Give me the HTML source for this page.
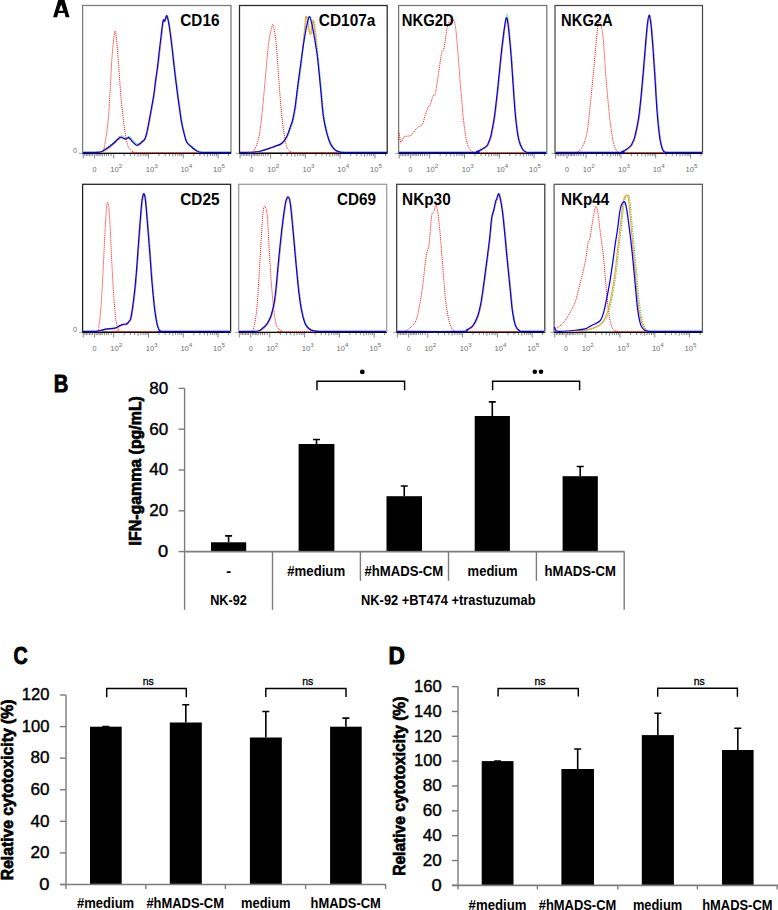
<!DOCTYPE html>
<html><head><meta charset="utf-8"><title>Figure</title>
<style>
html,body{margin:0;padding:0;background:#fff;}
body{width:778px;height:910px;overflow:hidden;font-family:"Liberation Sans", sans-serif;}
svg{display:block;}
</style></head><body>
<svg width="778" height="910" viewBox="0 0 778 910" font-family='"Liberation Sans", sans-serif'>
<rect width="778" height="910" fill="#fff"/>
<path d="M53.1,17.2 L58.4,-0.5 L64.4,-0.5 L69.5,17.2 L65.6,17.2 L64.6,13.1 L58.2,13.1 L57.1,17.2 Z M61.2,4.6 L58.9,10.7 L63.4,10.7 Z" fill="#000" fill-rule="evenodd"/>
<text x="53.8" y="391.5" font-size="24.5" font-weight="bold" textLength="14.6" lengthAdjust="spacingAndGlyphs" stroke="#000" stroke-width="0.9">B</text>
<text x="13.6" y="664.2" font-size="24.5" font-weight="bold" textLength="14.2" lengthAdjust="spacingAndGlyphs" stroke="#000" stroke-width="0.9">C</text>
<text x="388.4" y="664.1" font-size="23.5" font-weight="bold" textLength="16.4" lengthAdjust="spacingAndGlyphs" stroke="#000" stroke-width="0.9">D</text>
<path d="M83.2,153.5 v5 M94.6,153.5 v5 M113.7,153.5 v5 M148.5,153.5 v5 M183.3,153.5 v5 M218.1,153.5 v5 M84.8,153.5 v2.6 M86.35,153.5 v2.6 M87.9,153.5 v2.6 M89.45,153.5 v2.6 M91,153.5 v2.6 M92.55,153.5 v2.6 M96.2,153.5 v2.6 M97.8,153.5 v2.6 M99.2,153.5 v2.6 M100.8,153.5 v2.6 M102.3,153.5 v2.6 M104.4,153.5 v2.6 M106.4,153.5 v2.6 M108.5,153.5 v2.6 M111.1,153.5 v2.6 M124.18,153.5 v2.6 M130.3,153.5 v2.6 M134.65,153.5 v2.6 M138.02,153.5 v3.2 M140.78,153.5 v2.6 M143.11,153.5 v2.6 M145.13,153.5 v2.6 M146.91,153.5 v2.6 M158.98,153.5 v2.6 M165.1,153.5 v2.6 M169.45,153.5 v2.6 M172.82,153.5 v3.2 M175.58,153.5 v2.6 M177.91,153.5 v2.6 M179.93,153.5 v2.6 M181.71,153.5 v2.6 M193.78,153.5 v2.6 M199.9,153.5 v2.6 M204.25,153.5 v2.6 M207.62,153.5 v3.2 M210.38,153.5 v2.6 M212.71,153.5 v2.6 M214.73,153.5 v2.6 M216.51,153.5 v2.6 M228.58,153.5 v2.6" stroke="#7a7a7a" stroke-width="0.9" fill="none"/>
<text x="94.6" y="172" font-size="7.2" text-anchor="middle" fill="#6e6e6e">0</text>
<text x="110.3" y="172" font-size="7.6" fill="#6e6e6e">10<tspan dy="-4.4" font-size="6.2">2</tspan></text>
<text x="145.7" y="172" font-size="7.6" fill="#6e6e6e">10<tspan dy="-4.4" font-size="6.2">3</tspan></text>
<text x="180.4" y="172" font-size="7.6" fill="#6e6e6e">10<tspan dy="-4.4" font-size="6.2">4</tspan></text>
<text x="213.1" y="172" font-size="7.6" fill="#6e6e6e">10<tspan dy="-4.4" font-size="6.2">5</tspan></text>
<path d="M82.6,153.4 h-3.6" stroke="#8c8c8c" stroke-width="0.8"/>
<text x="75" y="152.8" font-size="7.2" text-anchor="middle" fill="#6e6e6e">0</text>
<rect x="82.6" y="5.5" width="148.4" height="147.5" fill="none" stroke="#7a7a7a" stroke-width="1.25"/>
<path d="M82.6,153.45 H231" stroke="#000" stroke-width="1.0"/>
<path d="M83,152.45 C85.82,152.45 96.42,153.05 99.9,152.45 C103.38,151.85 102.57,153.77 103.9,148.85 C105.23,143.93 106.9,131.92 107.9,122.95 C108.9,113.98 109.23,105.67 109.9,95.05 C110.57,84.43 111.23,68.87 111.9,59.25 C112.57,49.63 113.33,42 113.9,37.35 C114.47,32.7 114.8,30.37 115.3,31.35 C115.8,32.33 116.3,36.95 116.9,43.25 C117.5,49.55 118.25,60.52 118.9,69.15 C119.55,77.78 120.15,87.4 120.8,95.05 C121.45,102.7 121.97,108.07 122.8,115.05 C123.63,122.03 124.8,131.48 125.8,136.95 C126.8,142.42 127.47,145.33 128.8,147.85 C130.13,150.37 131.93,151.28 133.8,152.05 C135.67,152.82 123.8,152.38 140,152.45 C156.2,152.52 215.83,152.45 231,152.45" fill="none" stroke="#ff1a1a" stroke-width="1.0" stroke-dasharray="1.1 0.9"/>
<path d="M83.7,152.45 C86.52,152.33 97.12,152.35 100.6,151.75 C104.08,151.15 103.27,149.73 104.6,148.85 C105.93,147.97 106.93,147.67 108.6,146.45 C110.27,145.23 113,142.95 114.6,141.55 C116.2,140.15 117.05,139.02 118.2,138.05 C119.35,137.08 120.5,135.93 121.5,135.75 C122.5,135.57 123.37,136.63 124.2,136.95 C125.03,137.27 125.62,137.78 126.5,137.65 C127.38,137.52 128.5,135.83 129.5,136.15 C130.5,136.47 131.17,138.27 132.5,139.55 C133.83,140.83 135.83,143.67 137.5,143.85 C139.17,144.03 141.17,141.7 142.5,140.65 C143.83,139.6 144.67,138.97 145.5,137.55 C146.33,136.13 146.85,134.63 147.5,132.15 C148.15,129.67 148.67,126.48 149.4,122.65 C150.13,118.82 151.07,113.8 151.9,109.15 C152.73,104.5 153.65,99.75 154.4,94.75 C155.15,89.75 155.73,84.13 156.4,79.15 C157.07,74.17 157.82,69.52 158.4,64.85 C158.98,60.18 159.4,55.47 159.9,51.15 C160.4,46.83 160.9,43.12 161.4,38.95 C161.9,34.78 162.47,29.37 162.9,26.15 C163.33,22.93 163.58,20.57 164,19.65 C164.42,18.73 164.83,21.37 165.4,20.65 C165.97,19.93 166.73,14.95 167.4,15.35 C168.07,15.75 168.82,20.08 169.4,23.05 C169.98,26.02 170.4,29.5 170.9,33.15 C171.4,36.8 171.67,38.67 172.4,44.95 C173.13,51.23 174.32,62.55 175.3,70.85 C176.28,79.15 177.47,88.37 178.3,94.75 C179.13,101.13 179.63,104.5 180.3,109.15 C180.97,113.8 181.57,118.65 182.3,122.65 C183.03,126.65 183.87,129.98 184.7,133.15 C185.53,136.32 186.03,139.38 187.3,141.65 C188.57,143.92 190.73,145.33 192.3,146.75 C193.87,148.17 195.38,149.32 196.7,150.15 C198.02,150.98 198.87,151.37 200.2,151.75 C201.53,152.13 199.45,152.33 204.7,152.45 C209.95,152.57 227.2,152.45 231.7,152.45" fill="none" stroke="#33cc33" stroke-width="1.1" stroke-dasharray="1.2 1.2"/>
<path d="M83.5,152.45 C86.32,152.45 96.92,152.72 100.4,152.45 C103.88,152.18 103.07,151.52 104.4,150.85 C105.73,150.18 106.73,149.67 108.4,148.45 C110.07,147.23 112.8,144.95 114.4,143.55 C116,142.15 116.85,141.02 118,140.05 C119.15,139.08 120.3,137.93 121.3,137.75 C122.3,137.57 123.17,138.63 124,138.95 C124.83,139.27 125.42,139.78 126.3,139.65 C127.18,139.52 128.3,137.83 129.3,138.15 C130.3,138.47 130.97,140.27 132.3,141.55 C133.63,142.83 135.63,145.67 137.3,145.85 C138.97,146.03 140.97,143.7 142.3,142.65 C143.63,141.6 144.47,141.15 145.3,139.55 C146.13,137.95 146.65,135.72 147.3,133.05 C147.95,130.38 148.47,127.38 149.2,123.55 C149.93,119.72 150.87,114.7 151.7,110.05 C152.53,105.4 153.45,100.65 154.2,95.65 C154.95,90.65 155.53,85.03 156.2,80.05 C156.87,75.07 157.62,70.42 158.2,65.75 C158.78,61.08 159.2,56.37 159.7,52.05 C160.2,47.73 160.7,44.02 161.2,39.85 C161.7,35.68 162.27,30.27 162.7,27.05 C163.13,23.83 163.38,21.47 163.8,20.55 C164.22,19.63 164.63,22.27 165.2,21.55 C165.77,20.83 166.53,15.85 167.2,16.25 C167.87,16.65 168.62,20.98 169.2,23.95 C169.78,26.92 170.2,30.4 170.7,34.05 C171.2,37.7 171.47,39.57 172.2,45.85 C172.93,52.13 174.12,63.45 175.1,71.75 C176.08,80.05 177.27,89.27 178.1,95.65 C178.93,102.03 179.43,105.4 180.1,110.05 C180.77,114.7 181.37,119.55 182.1,123.55 C182.83,127.55 183.67,130.88 184.5,134.05 C185.33,137.22 185.83,140.28 187.1,142.55 C188.37,144.82 190.53,146.23 192.1,147.65 C193.67,149.07 195.18,150.25 196.5,151.05 C197.82,151.85 198.67,152.22 200,152.45 C201.33,152.68 199.25,152.45 204.5,152.45 C209.75,152.45 227,152.45 231.5,152.45" fill="none" stroke="#ffa030" stroke-width="1.1"/>
<path d="M83,152.45 C85.82,152.38 96.42,152.42 99.9,152.05 C103.38,151.68 102.57,150.95 103.9,150.25 C105.23,149.55 106.23,149.07 107.9,147.85 C109.57,146.63 112.3,144.35 113.9,142.95 C115.5,141.55 116.35,140.42 117.5,139.45 C118.65,138.48 119.8,137.33 120.8,137.15 C121.8,136.97 122.67,138.03 123.5,138.35 C124.33,138.67 124.92,139.18 125.8,139.05 C126.68,138.92 127.8,137.23 128.8,137.55 C129.8,137.87 130.47,139.67 131.8,140.95 C133.13,142.23 135.13,145.07 136.8,145.25 C138.47,145.43 140.47,143.1 141.8,142.05 C143.13,141 143.97,140.55 144.8,138.95 C145.63,137.35 146.15,135.12 146.8,132.45 C147.45,129.78 147.97,126.78 148.7,122.95 C149.43,119.12 150.37,114.1 151.2,109.45 C152.03,104.8 152.95,100.05 153.7,95.05 C154.45,90.05 155.03,84.43 155.7,79.45 C156.37,74.47 157.12,69.82 157.7,65.15 C158.28,60.48 158.7,55.77 159.2,51.45 C159.7,47.13 160.2,43.42 160.7,39.25 C161.2,35.08 161.77,29.67 162.2,26.45 C162.63,23.23 162.88,20.87 163.3,19.95 C163.72,19.03 164.13,21.67 164.7,20.95 C165.27,20.23 166.03,15.25 166.7,15.65 C167.37,16.05 168.12,20.38 168.7,23.35 C169.28,26.32 169.7,29.8 170.2,33.45 C170.7,37.1 170.97,38.97 171.7,45.25 C172.43,51.53 173.62,62.85 174.6,71.15 C175.58,79.45 176.77,88.67 177.6,95.05 C178.43,101.43 178.93,104.8 179.6,109.45 C180.27,114.1 180.87,118.95 181.6,122.95 C182.33,126.95 183.17,130.28 184,133.45 C184.83,136.62 185.33,139.68 186.6,141.95 C187.87,144.22 190.03,145.63 191.6,147.05 C193.17,148.47 194.68,149.62 196,150.45 C197.32,151.28 198.17,151.72 199.5,152.05 C200.83,152.38 198.75,152.38 204,152.45 C209.25,152.52 226.5,152.45 231,152.45" fill="none" stroke="#0000ff" stroke-width="1.25" stroke-linejoin="round"/>
<text x="180.3" y="26" font-size="17.2" font-weight="bold" textLength="39.1" lengthAdjust="spacingAndGlyphs">CD16</text>
<path d="M240.1,153.5 v5 M251.5,153.5 v5 M270.6,153.5 v5 M305.4,153.5 v5 M340.2,153.5 v5 M375,153.5 v5 M241.7,153.5 v2.6 M243.25,153.5 v2.6 M244.8,153.5 v2.6 M246.35,153.5 v2.6 M247.9,153.5 v2.6 M249.45,153.5 v2.6 M253.1,153.5 v2.6 M254.7,153.5 v2.6 M256.1,153.5 v2.6 M257.7,153.5 v2.6 M259.2,153.5 v2.6 M261.3,153.5 v2.6 M263.3,153.5 v2.6 M265.4,153.5 v2.6 M268,153.5 v2.6 M281.08,153.5 v2.6 M287.2,153.5 v2.6 M291.55,153.5 v2.6 M294.92,153.5 v3.2 M297.68,153.5 v2.6 M300.01,153.5 v2.6 M302.03,153.5 v2.6 M303.81,153.5 v2.6 M315.88,153.5 v2.6 M322,153.5 v2.6 M326.35,153.5 v2.6 M329.72,153.5 v3.2 M332.48,153.5 v2.6 M334.81,153.5 v2.6 M336.83,153.5 v2.6 M338.61,153.5 v2.6 M350.68,153.5 v2.6 M356.8,153.5 v2.6 M361.15,153.5 v2.6 M364.52,153.5 v3.2 M367.28,153.5 v2.6 M369.61,153.5 v2.6 M371.63,153.5 v2.6 M373.41,153.5 v2.6 M385.48,153.5 v2.6" stroke="#7a7a7a" stroke-width="0.9" fill="none"/>
<text x="251.5" y="172" font-size="7.2" text-anchor="middle" fill="#6e6e6e">0</text>
<text x="267.2" y="172" font-size="7.6" fill="#6e6e6e">10<tspan dy="-4.4" font-size="6.2">2</tspan></text>
<text x="302.6" y="172" font-size="7.6" fill="#6e6e6e">10<tspan dy="-4.4" font-size="6.2">3</tspan></text>
<text x="337.3" y="172" font-size="7.6" fill="#6e6e6e">10<tspan dy="-4.4" font-size="6.2">4</tspan></text>
<text x="370" y="172" font-size="7.6" fill="#6e6e6e">10<tspan dy="-4.4" font-size="6.2">5</tspan></text>
<path d="M239.5,153.4 h-3.6" stroke="#8c8c8c" stroke-width="0.8"/>
<rect x="239.5" y="5.5" width="147.7" height="147.5" fill="none" stroke="#262626" stroke-width="1.25"/>
<path d="M239.5,153.45 H387.2" stroke="#000" stroke-width="1.0"/>
<path d="M240,152.45 C241.83,152.45 248.52,153.05 251,152.45 C253.48,151.85 253.58,151.43 254.9,148.85 C256.22,146.27 257.73,142.58 258.9,136.95 C260.07,131.32 260.9,124.02 261.9,115.05 C262.9,106.08 263.9,94.12 264.9,83.15 C265.9,72.18 267.07,57.22 267.9,49.25 C268.73,41.28 269.3,38.82 269.9,35.35 C270.5,31.88 271,30.27 271.5,28.45 C272,26.63 272.33,23.63 272.9,24.45 C273.47,25.27 274.25,28.88 274.9,33.35 C275.55,37.82 276.15,43.62 276.8,51.25 C277.45,58.88 278.13,70.18 278.8,79.15 C279.47,88.12 280.03,96.75 280.8,105.05 C281.57,113.35 282.4,121.98 283.4,128.95 C284.4,135.92 285.4,143 286.8,146.85 C288.2,150.7 290.1,151.12 291.8,152.05 C293.5,152.98 281.13,152.38 297,152.45 C312.87,152.52 372,152.45 387,152.45" fill="none" stroke="#ff1a1a" stroke-width="1.0" stroke-dasharray="1.1 0.9"/>
<path d="M240.7,152.45 C242.7,152.42 249.38,152.48 252.7,152.25 C256.02,152.02 257.95,151.63 260.6,151.05 C263.25,150.47 266.58,149.37 268.6,148.75 C270.62,148.13 271.35,147.82 272.7,147.35 C274.05,146.88 275.28,146.45 276.7,145.95 C278.12,145.45 279.87,145.12 281.2,144.35 C282.53,143.58 283.62,142.67 284.7,141.35 C285.78,140.03 286.87,138.1 287.7,136.45 C288.53,134.8 289.03,133.23 289.7,131.45 C290.37,129.67 291.08,127.55 291.7,125.75 C292.32,123.95 292.7,123.75 293.4,120.65 C294.1,117.55 295.18,111.82 295.9,107.15 C296.62,102.48 297.13,97.07 297.7,92.65 C298.27,88.23 298.72,84.98 299.3,80.65 C299.88,76.32 300.52,72.4 301.2,66.65 C301.88,60.9 302.7,52.73 303.4,46.15 C304.1,39.57 304.9,32.15 305.4,27.15 C305.9,22.15 305.93,17.15 306.4,16.15 C306.87,15.15 307.65,18.65 308.2,21.15 C308.75,23.65 309.17,29.07 309.7,31.15 C310.23,33.23 310.87,34.98 311.4,33.65 C311.93,32.32 312.47,25.23 312.9,23.15 C313.33,21.07 313.5,19.32 314,21.15 C314.5,22.98 315.17,27.85 315.9,34.15 C316.63,40.45 317.48,49.83 318.4,58.95 C319.32,68.07 320.47,79.38 321.4,88.85 C322.33,98.32 322.97,108.28 324,115.75 C325.03,123.22 326.38,128.92 327.6,133.65 C328.82,138.38 329.87,141.4 331.3,144.15 C332.73,146.9 334.57,148.88 336.2,150.15 C337.83,151.42 339.52,151.37 341.1,151.75 C342.68,152.13 337.93,152.33 345.7,152.45 C353.47,152.57 380.7,152.45 387.7,152.45" fill="none" stroke="#33cc33" stroke-width="1.1" stroke-dasharray="1.2 1.2"/>
<path d="M240,152.45 C242,152.42 248.68,152.43 252,152.25 C255.32,152.07 257.25,151.88 259.9,151.35 C262.55,150.82 265.88,149.67 267.9,149.05 C269.92,148.43 270.65,148.12 272,147.65 C273.35,147.18 274.58,146.75 276,146.25 C277.42,145.75 279.17,145.42 280.5,144.65 C281.83,143.88 282.92,142.97 284,141.65 C285.08,140.33 286.17,138.4 287,136.75 C287.83,135.1 288.33,133.53 289,131.75 C289.67,129.97 290.38,127.85 291,126.05 C291.62,124.25 292,124.05 292.7,120.95 C293.4,117.85 294.48,112.12 295.2,107.45 C295.92,102.78 296.43,97.37 297,92.95 C297.57,88.53 298.02,85.28 298.6,80.95 C299.18,76.62 299.82,72.7 300.5,66.95 C301.18,61.2 302,53.03 302.7,46.45 C303.4,39.87 304.2,32.45 304.7,27.45 C305.2,22.45 305.23,17.45 305.7,16.45 C306.17,15.45 306.95,18.95 307.5,21.45 C308.05,23.95 308.47,29.37 309,31.45 C309.53,33.53 310.17,35.28 310.7,33.95 C311.23,32.62 311.77,25.53 312.2,23.45 C312.63,21.37 312.8,19.62 313.3,21.45 C313.8,23.28 314.47,28.15 315.2,34.45 C315.93,40.75 316.78,50.13 317.7,59.25 C318.62,68.37 319.77,79.68 320.7,89.15 C321.63,98.62 322.27,108.58 323.3,116.05 C324.33,123.52 325.68,129.22 326.9,133.95 C328.12,138.68 329.17,141.7 330.6,144.45 C332.03,147.2 333.87,149.18 335.5,150.45 C337.13,151.72 338.82,151.72 340.4,152.05 C341.98,152.38 337.23,152.38 345,152.45 C352.77,152.52 380,152.45 387,152.45" fill="none" stroke="#ffa030" stroke-width="1.1"/>
<path d="M240,152.45 C242,152.42 248.68,152.45 252,152.25 C255.32,152.05 257.25,151.82 259.9,151.25 C262.55,150.68 265.88,149.52 267.9,148.85 C269.92,148.18 270.65,147.75 272,147.25 C273.35,146.75 274.58,146.37 276,145.85 C277.42,145.33 279.17,144.97 280.5,144.15 C281.83,143.33 282.92,142.32 284,140.95 C285.08,139.58 286.17,137.65 287,135.95 C287.83,134.25 288.33,132.58 289,130.75 C289.67,128.92 290.38,126.78 291,124.95 C291.62,123.12 292,122.85 292.7,119.75 C293.4,116.65 294.48,111.03 295.2,106.35 C295.92,101.67 296.43,96.13 297,91.65 C297.57,87.17 298.02,83.82 298.6,79.45 C299.18,75.08 299.65,71.53 300.5,65.45 C301.35,59.37 302.67,49.53 303.7,42.95 C304.73,36.37 305.77,30.33 306.7,25.95 C307.63,21.57 308.47,17.08 309.3,16.65 C310.13,16.22 310.8,19.58 311.7,23.35 C312.6,27.12 313.7,33.27 314.7,39.25 C315.7,45.23 316.7,50.93 317.7,59.25 C318.7,67.57 319.77,79.68 320.7,89.15 C321.63,98.62 322.27,108.67 323.3,116.05 C324.33,123.43 325.68,128.77 326.9,133.45 C328.12,138.13 329.17,141.35 330.6,144.15 C332.03,146.95 333.87,148.93 335.5,150.25 C337.13,151.57 338.82,151.68 340.4,152.05 C341.98,152.42 337.23,152.38 345,152.45 C352.77,152.52 380,152.45 387,152.45" fill="none" stroke="#0000ff" stroke-width="1.25" stroke-linejoin="round"/>
<text x="318.8" y="26" font-size="17.2" font-weight="bold" textLength="56.6" lengthAdjust="spacingAndGlyphs">CD107a</text>
<path d="M399.2,153.5 v5 M410.6,153.5 v5 M429.7,153.5 v5 M464.5,153.5 v5 M499.3,153.5 v5 M534.1,153.5 v5 M400.8,153.5 v2.6 M402.35,153.5 v2.6 M403.9,153.5 v2.6 M405.45,153.5 v2.6 M407,153.5 v2.6 M408.55,153.5 v2.6 M412.2,153.5 v2.6 M413.8,153.5 v2.6 M415.2,153.5 v2.6 M416.8,153.5 v2.6 M418.3,153.5 v2.6 M420.4,153.5 v2.6 M422.4,153.5 v2.6 M424.5,153.5 v2.6 M427.1,153.5 v2.6 M440.18,153.5 v2.6 M446.3,153.5 v2.6 M450.65,153.5 v2.6 M454.02,153.5 v3.2 M456.78,153.5 v2.6 M459.11,153.5 v2.6 M461.13,153.5 v2.6 M462.91,153.5 v2.6 M474.98,153.5 v2.6 M481.1,153.5 v2.6 M485.45,153.5 v2.6 M488.82,153.5 v3.2 M491.58,153.5 v2.6 M493.91,153.5 v2.6 M495.93,153.5 v2.6 M497.71,153.5 v2.6 M509.78,153.5 v2.6 M515.9,153.5 v2.6 M520.25,153.5 v2.6 M523.62,153.5 v3.2 M526.38,153.5 v2.6 M528.71,153.5 v2.6 M530.73,153.5 v2.6 M532.51,153.5 v2.6 M544.58,153.5 v2.6" stroke="#7a7a7a" stroke-width="0.9" fill="none"/>
<text x="410.6" y="172" font-size="7.2" text-anchor="middle" fill="#6e6e6e">0</text>
<text x="426.3" y="172" font-size="7.6" fill="#6e6e6e">10<tspan dy="-4.4" font-size="6.2">2</tspan></text>
<text x="461.7" y="172" font-size="7.6" fill="#6e6e6e">10<tspan dy="-4.4" font-size="6.2">3</tspan></text>
<text x="496.4" y="172" font-size="7.6" fill="#6e6e6e">10<tspan dy="-4.4" font-size="6.2">4</tspan></text>
<text x="529.1" y="172" font-size="7.6" fill="#6e6e6e">10<tspan dy="-4.4" font-size="6.2">5</tspan></text>
<path d="M398.6,153.4 h-3.6" stroke="#8c8c8c" stroke-width="0.8"/>
<rect x="398.6" y="5.5" width="148.2" height="147.5" fill="none" stroke="#767676" stroke-width="1.25"/>
<path d="M398.6,153.45 H546.8" stroke="#000" stroke-width="1.0"/>
<path d="M399.2,132.85 C399.47,134.45 400,141.78 400.8,142.45 C401.6,143.12 402.67,137.92 404,136.85 C405.33,135.78 407.47,136.45 408.8,136.05 C410.13,135.65 410.67,135.78 412,134.45 C413.33,133.12 415.05,129.78 416.8,128.05 C418.55,126.32 421.15,126.05 422.5,124.05 C423.85,122.05 423.97,118.85 424.9,116.05 C425.83,113.25 427.17,109.25 428.1,107.25 C429.03,105.25 429.7,105.92 430.5,104.05 C431.3,102.18 432.1,97.78 432.9,96.05 C433.7,94.32 434.37,97.4 435.3,93.65 C436.23,89.9 437.43,80.37 438.5,73.55 C439.57,66.73 440.77,57.02 441.7,52.75 C442.63,48.48 443.17,52.23 444.1,47.95 C445.03,43.67 446.23,31.73 447.3,27.05 C448.37,22.37 449.57,21.18 450.5,19.85 C451.43,18.52 452.1,18.12 452.9,19.05 C453.7,19.98 454.5,20.38 455.3,25.45 C456.1,30.52 456.9,40.1 457.7,49.45 C458.5,58.8 459.43,73.25 460.1,81.55 C460.77,89.85 461.17,93.1 461.7,99.25 C462.23,105.4 462.5,111.5 463.3,118.45 C464.1,125.4 465.43,135.87 466.5,140.95 C467.57,146.03 468.63,147.1 469.7,148.95 C470.77,150.8 471.68,151.47 472.9,152.05 C474.12,152.63 464.82,152.38 477,152.45 C489.18,152.52 534.5,152.45 546,152.45" fill="none" stroke="#ff1a1a" stroke-width="1.0" stroke-dasharray="1.1 0.9"/>
<path d="M399.7,152.45 C411.98,152.45 460.45,152.63 473.4,152.45 C486.35,152.27 476.07,151.83 477.4,151.35 C478.73,150.87 479.73,150.52 481.4,149.55 C483.07,148.58 486.07,146.87 487.4,145.55 C488.73,144.23 488.75,143.13 489.4,141.65 C490.05,140.17 490.65,139.15 491.3,136.65 C491.95,134.15 492.63,130.3 493.3,126.65 C493.97,123 494.47,121.05 495.3,114.75 C496.13,108.45 497.3,98.15 498.3,88.85 C499.3,79.55 500.3,68.25 501.3,58.95 C502.3,49.65 503.32,40.49 504.3,33.05 C505.28,25.61 506.2,13.32 507.2,14.3 C508.2,15.28 509.45,30.84 510.3,38.95 C511.15,47.06 511.65,54.3 512.3,62.95 C512.95,71.6 513.55,81.88 514.2,90.85 C514.85,99.82 515.37,108.78 516.2,116.75 C517.03,124.72 518.03,133.28 519.2,138.65 C520.37,144.02 521.87,146.68 523.2,148.95 C524.53,151.22 525.95,151.67 527.2,152.25 C528.45,152.83 527.45,152.42 530.7,152.45 C533.95,152.48 544.03,152.45 546.7,152.45" fill="none" stroke="#33cc33" stroke-width="1.1" stroke-dasharray="1.2 1.2"/>
<path d="M399.5,152.45 C411.78,152.45 460.25,152.48 473.2,152.45 C486.15,152.42 475.87,152.58 477.2,152.25 C478.53,151.92 479.53,151.42 481.2,150.45 C482.87,149.48 485.87,147.77 487.2,146.45 C488.53,145.13 488.55,144.03 489.2,142.55 C489.85,141.07 490.45,140.05 491.1,137.55 C491.75,135.05 492.43,131.2 493.1,127.55 C493.77,123.9 494.27,121.95 495.1,115.65 C495.93,109.35 497.1,99.05 498.1,89.75 C499.1,80.45 500.1,69.15 501.1,59.85 C502.1,50.55 503.2,40.72 504.1,33.95 C505,27.18 505.83,21.25 506.5,19.25 C507.17,17.25 507.5,18.52 508.1,21.95 C508.7,25.38 509.43,32.87 510.1,39.85 C510.77,46.83 511.45,55.2 512.1,63.85 C512.75,72.5 513.35,82.78 514,91.75 C514.65,100.72 515.17,109.68 516,117.65 C516.83,125.62 517.83,134.18 519,139.55 C520.17,144.92 521.67,147.73 523,149.85 C524.33,151.97 525.75,151.82 527,152.25 C528.25,152.68 527.25,152.42 530.5,152.45 C533.75,152.48 543.83,152.45 546.5,152.45" fill="none" stroke="#ffa030" stroke-width="1.1"/>
<path d="M399,152.45 C411.28,152.45 459.75,152.58 472.7,152.45 C485.65,152.32 475.37,152.08 476.7,151.65 C478.03,151.22 479.03,150.82 480.7,149.85 C482.37,148.88 485.37,147.17 486.7,145.85 C488.03,144.53 488.05,143.43 488.7,141.95 C489.35,140.47 489.95,139.45 490.6,136.95 C491.25,134.45 491.93,130.6 492.6,126.95 C493.27,123.3 493.77,121.35 494.6,115.05 C495.43,108.75 496.6,98.45 497.6,89.15 C498.6,79.85 499.6,68.55 500.6,59.25 C501.6,49.95 502.7,40.12 503.6,33.35 C504.5,26.58 505.33,20.65 506,18.65 C506.67,16.65 507,17.92 507.6,21.35 C508.2,24.78 508.93,32.27 509.6,39.25 C510.27,46.23 510.95,54.6 511.6,63.25 C512.25,71.9 512.85,82.18 513.5,91.15 C514.15,100.12 514.67,109.08 515.5,117.05 C516.33,125.02 517.33,133.58 518.5,138.95 C519.67,144.32 521.17,147.03 522.5,149.25 C523.83,151.47 525.25,151.72 526.5,152.25 C527.75,152.78 526.75,152.42 530,152.45 C533.25,152.48 543.33,152.45 546,152.45" fill="none" stroke="#0000ff" stroke-width="1.25" stroke-linejoin="round"/>
<text x="401.7" y="26" font-size="17.2" font-weight="bold" textLength="52" lengthAdjust="spacingAndGlyphs">NKG2D</text>
<path d="M555.6,153.5 v5 M567,153.5 v5 M586.1,153.5 v5 M620.9,153.5 v5 M655.7,153.5 v5 M690.5,153.5 v5 M557.2,153.5 v2.6 M558.75,153.5 v2.6 M560.3,153.5 v2.6 M561.85,153.5 v2.6 M563.4,153.5 v2.6 M564.95,153.5 v2.6 M568.6,153.5 v2.6 M570.2,153.5 v2.6 M571.6,153.5 v2.6 M573.2,153.5 v2.6 M574.7,153.5 v2.6 M576.8,153.5 v2.6 M578.8,153.5 v2.6 M580.9,153.5 v2.6 M583.5,153.5 v2.6 M596.58,153.5 v2.6 M602.7,153.5 v2.6 M607.05,153.5 v2.6 M610.42,153.5 v3.2 M613.18,153.5 v2.6 M615.51,153.5 v2.6 M617.53,153.5 v2.6 M619.31,153.5 v2.6 M631.38,153.5 v2.6 M637.5,153.5 v2.6 M641.85,153.5 v2.6 M645.22,153.5 v3.2 M647.98,153.5 v2.6 M650.31,153.5 v2.6 M652.33,153.5 v2.6 M654.11,153.5 v2.6 M666.18,153.5 v2.6 M672.3,153.5 v2.6 M676.65,153.5 v2.6 M680.02,153.5 v3.2 M682.78,153.5 v2.6 M685.11,153.5 v2.6 M687.13,153.5 v2.6 M688.91,153.5 v2.6 M700.98,153.5 v2.6" stroke="#7a7a7a" stroke-width="0.9" fill="none"/>
<text x="567" y="172" font-size="7.2" text-anchor="middle" fill="#6e6e6e">0</text>
<text x="582.7" y="172" font-size="7.6" fill="#6e6e6e">10<tspan dy="-4.4" font-size="6.2">2</tspan></text>
<text x="618.1" y="172" font-size="7.6" fill="#6e6e6e">10<tspan dy="-4.4" font-size="6.2">3</tspan></text>
<text x="652.8" y="172" font-size="7.6" fill="#6e6e6e">10<tspan dy="-4.4" font-size="6.2">4</tspan></text>
<text x="685.5" y="172" font-size="7.6" fill="#6e6e6e">10<tspan dy="-4.4" font-size="6.2">5</tspan></text>
<path d="M555,153.4 h-3.6" stroke="#8c8c8c" stroke-width="0.8"/>
<rect x="555" y="5.5" width="147.5" height="147.5" fill="none" stroke="#484848" stroke-width="1.25"/>
<path d="M555,153.45 H702.5" stroke="#000" stroke-width="1.0"/>
<path d="M556,152.45 C559.32,152.45 571.75,153.05 575.9,152.45 C580.05,151.85 579.4,150.77 580.9,148.85 C582.4,146.93 583.73,144.6 584.9,140.95 C586.07,137.3 586.92,133.93 587.9,126.95 C588.88,119.97 589.82,108.68 590.8,99.05 C591.78,89.42 592.87,79.12 593.8,69.15 C594.73,59.18 595.63,46.88 596.4,39.25 C597.17,31.62 597.67,25.83 598.4,23.35 C599.13,20.87 600,21.7 600.8,24.35 C601.6,27 602.37,30.78 603.2,39.25 C604.03,47.72 604.93,64.18 605.8,75.15 C606.67,86.12 607.57,96.42 608.4,105.05 C609.23,113.68 609.9,120.47 610.8,126.95 C611.7,133.43 612.65,139.77 613.8,143.95 C614.95,148.13 616.33,150.63 617.7,152.05 C619.07,153.47 607.95,152.38 622,152.45 C636.05,152.52 688.67,152.45 702,152.45" fill="none" stroke="#ff1a1a" stroke-width="1.0" stroke-dasharray="1.1 0.9"/>
<path d="M556.7,152.45 C567.15,152.45 608.4,152.63 619.4,152.45 C630.4,152.27 621.53,151.83 622.7,151.35 C623.87,150.87 624.95,150.52 626.4,149.55 C627.85,148.58 630.23,146.87 631.4,145.55 C632.57,144.23 632.73,143.13 633.4,141.65 C634.07,140.17 634.4,140.8 635.4,136.65 C636.4,132.5 638.23,124.72 639.4,116.75 C640.57,108.78 641.42,99.15 642.4,88.85 C643.38,78.55 644.42,65.25 645.3,54.95 C646.18,44.65 646.97,33.72 647.7,27.05 C648.43,20.38 649.03,15.28 649.7,14.95 C650.37,14.62 651.03,19.38 651.7,25.05 C652.37,30.72 653.03,39.98 653.7,48.95 C654.37,57.92 655.03,68.55 655.7,78.85 C656.37,89.15 656.93,101.12 657.7,110.75 C658.47,120.38 659.37,130.18 660.3,136.65 C661.23,143.12 662.3,146.95 663.3,149.55 C664.3,152.15 665.23,151.77 666.3,152.25 C667.37,152.73 663.63,152.42 669.7,152.45 C675.77,152.48 697.2,152.45 702.7,152.45" fill="none" stroke="#33cc33" stroke-width="1.1" stroke-dasharray="1.2 1.2"/>
<path d="M556.5,152.45 C566.95,152.45 608.2,152.48 619.2,152.45 C630.2,152.42 621.33,152.58 622.5,152.25 C623.67,151.92 624.75,151.42 626.2,150.45 C627.65,149.48 630.03,147.77 631.2,146.45 C632.37,145.13 632.53,144.03 633.2,142.55 C633.87,141.07 634.2,141.7 635.2,137.55 C636.2,133.4 638.03,125.62 639.2,117.65 C640.37,109.68 641.22,100.05 642.2,89.75 C643.18,79.45 644.22,66.15 645.1,55.85 C645.98,45.55 646.77,34.62 647.5,27.95 C648.23,21.28 648.83,16.18 649.5,15.85 C650.17,15.52 650.83,20.28 651.5,25.95 C652.17,31.62 652.83,40.88 653.5,49.85 C654.17,58.82 654.83,69.45 655.5,79.75 C656.17,90.05 656.73,102.02 657.5,111.65 C658.27,121.28 659.17,131.08 660.1,137.55 C661.03,144.02 662.1,148 663.1,150.45 C664.1,152.9 665.03,151.92 666.1,152.25 C667.17,152.58 663.43,152.42 669.5,152.45 C675.57,152.48 697,152.45 702.5,152.45" fill="none" stroke="#ffa030" stroke-width="1.1"/>
<path d="M556,152.45 C566.45,152.45 607.7,152.58 618.7,152.45 C629.7,152.32 620.83,152.08 622,151.65 C623.17,151.22 624.25,150.82 625.7,149.85 C627.15,148.88 629.53,147.17 630.7,145.85 C631.87,144.53 632.03,143.43 632.7,141.95 C633.37,140.47 633.7,141.1 634.7,136.95 C635.7,132.8 637.53,125.02 638.7,117.05 C639.87,109.08 640.72,99.45 641.7,89.15 C642.68,78.85 643.72,65.55 644.6,55.25 C645.48,44.95 646.27,34.02 647,27.35 C647.73,20.68 648.33,15.58 649,15.25 C649.67,14.92 650.33,19.68 651,25.35 C651.67,31.02 652.33,40.28 653,49.25 C653.67,58.22 654.33,68.85 655,79.15 C655.67,89.45 656.23,101.42 657,111.05 C657.77,120.68 658.67,130.48 659.6,136.95 C660.53,143.42 661.6,147.3 662.6,149.85 C663.6,152.4 664.53,151.82 665.6,152.25 C666.67,152.68 662.93,152.42 669,152.45 C675.07,152.48 696.5,152.45 702,152.45" fill="none" stroke="#0000ff" stroke-width="1.25" stroke-linejoin="round"/>
<text x="561.1" y="26" font-size="17.2" font-weight="bold" textLength="51.6" lengthAdjust="spacingAndGlyphs">NKG2A</text>
<path d="M83.2,332.5 v5 M94.6,332.5 v5 M113.7,332.5 v5 M148.5,332.5 v5 M183.3,332.5 v5 M218.1,332.5 v5 M84.8,332.5 v2.6 M86.35,332.5 v2.6 M87.9,332.5 v2.6 M89.45,332.5 v2.6 M91,332.5 v2.6 M92.55,332.5 v2.6 M96.2,332.5 v2.6 M97.8,332.5 v2.6 M99.2,332.5 v2.6 M100.8,332.5 v2.6 M102.3,332.5 v2.6 M104.4,332.5 v2.6 M106.4,332.5 v2.6 M108.5,332.5 v2.6 M111.1,332.5 v2.6 M124.18,332.5 v2.6 M130.3,332.5 v2.6 M134.65,332.5 v2.6 M138.02,332.5 v3.2 M140.78,332.5 v2.6 M143.11,332.5 v2.6 M145.13,332.5 v2.6 M146.91,332.5 v2.6 M158.98,332.5 v2.6 M165.1,332.5 v2.6 M169.45,332.5 v2.6 M172.82,332.5 v3.2 M175.58,332.5 v2.6 M177.91,332.5 v2.6 M179.93,332.5 v2.6 M181.71,332.5 v2.6 M193.78,332.5 v2.6 M199.9,332.5 v2.6 M204.25,332.5 v2.6 M207.62,332.5 v3.2 M210.38,332.5 v2.6 M212.71,332.5 v2.6 M214.73,332.5 v2.6 M216.51,332.5 v2.6 M228.58,332.5 v2.6" stroke="#7a7a7a" stroke-width="0.9" fill="none"/>
<text x="94.6" y="351" font-size="7.2" text-anchor="middle" fill="#6e6e6e">0</text>
<text x="110.3" y="351" font-size="7.6" fill="#6e6e6e">10<tspan dy="-4.4" font-size="6.2">2</tspan></text>
<text x="145.7" y="351" font-size="7.6" fill="#6e6e6e">10<tspan dy="-4.4" font-size="6.2">3</tspan></text>
<text x="180.4" y="351" font-size="7.6" fill="#6e6e6e">10<tspan dy="-4.4" font-size="6.2">4</tspan></text>
<text x="213.1" y="351" font-size="7.6" fill="#6e6e6e">10<tspan dy="-4.4" font-size="6.2">5</tspan></text>
<path d="M82.6,332.4 h-3.6" stroke="#8c8c8c" stroke-width="0.8"/>
<text x="75" y="331.8" font-size="7.2" text-anchor="middle" fill="#6e6e6e">0</text>
<rect x="82.6" y="184.3" width="148" height="147.7" fill="none" stroke="#1e1e1e" stroke-width="1.25"/>
<path d="M82.6,332.45 H230.6" stroke="#000" stroke-width="1.0"/>
<path d="M83,331.45 C85.32,331.45 94.25,332.38 96.9,331.45 C99.55,330.52 98.23,329.77 98.9,325.85 C99.57,321.93 100.23,316.58 100.9,307.95 C101.57,299.32 102.23,286.33 102.9,274.05 C103.57,261.77 104.33,244.87 104.9,234.25 C105.47,223.63 105.87,215.67 106.3,210.35 C106.73,205.03 107.07,202.68 107.5,202.35 C107.93,202.02 108.43,203.7 108.9,208.35 C109.37,213 109.8,220.95 110.3,230.25 C110.8,239.55 111.3,252.87 111.9,264.15 C112.5,275.43 113.23,288.65 113.9,297.95 C114.57,307.25 115.07,314.6 115.9,319.95 C116.73,325.3 117.72,328.13 118.9,330.05 C120.08,331.97 104.48,331.22 123,331.45 C141.52,331.68 212.17,331.45 230,331.45" fill="none" stroke="#ff1a1a" stroke-width="1.0" stroke-dasharray="1.1 0.9"/>
<path d="M83.7,331.45 C86.18,331.33 94.78,331.2 98.6,330.75 C102.42,330.3 103.77,329.25 106.6,328.75 C109.43,328.25 113.28,328.32 115.6,327.75 C117.92,327.18 119.15,325.95 120.5,325.35 C121.85,324.75 122.53,324.45 123.7,324.15 C124.87,323.85 126.53,324.05 127.5,323.55 C128.47,323.05 128.83,322.13 129.5,321.15 C130.17,320.17 130.67,321.57 131.5,317.65 C132.33,313.73 133.6,304.97 134.5,297.65 C135.4,290.33 136.07,283.7 136.9,273.75 C137.73,263.8 138.73,248.23 139.5,237.95 C140.27,227.67 140.93,218.6 141.5,212.05 C142.07,205.5 142.4,201.77 142.9,198.65 C143.4,195.53 143.97,193.12 144.5,193.35 C145.03,193.58 145.52,195.28 146.1,200.05 C146.68,204.82 147.28,213.32 148,221.95 C148.72,230.58 149.6,241.55 150.4,251.85 C151.2,262.15 151.97,274.12 152.8,283.75 C153.63,293.38 154.47,302.52 155.4,309.65 C156.33,316.78 157.4,322.95 158.4,326.55 C159.4,330.15 160.35,330.43 161.4,331.25 C162.45,332.07 153.15,331.42 164.7,331.45 C176.25,331.48 219.7,331.45 230.7,331.45" fill="none" stroke="#33cc33" stroke-width="1.1" stroke-dasharray="1.2 1.2"/>
<path d="M83.5,331.45 C85.98,331.45 94.58,331.75 98.4,331.45 C102.22,331.15 103.57,330.12 106.4,329.65 C109.23,329.18 113.08,329.22 115.4,328.65 C117.72,328.08 118.95,326.85 120.3,326.25 C121.65,325.65 122.33,325.35 123.5,325.05 C124.67,324.75 126.33,324.95 127.3,324.45 C128.27,323.95 128.63,323.03 129.3,322.05 C129.97,321.07 130.47,322.47 131.3,318.55 C132.13,314.63 133.4,305.87 134.3,298.55 C135.2,291.23 135.87,284.6 136.7,274.65 C137.53,264.7 138.53,249.13 139.3,238.85 C140.07,228.57 140.73,219.5 141.3,212.95 C141.87,206.4 142.2,202.67 142.7,199.55 C143.2,196.43 143.77,194.02 144.3,194.25 C144.83,194.48 145.32,196.18 145.9,200.95 C146.48,205.72 147.08,214.22 147.8,222.85 C148.52,231.48 149.4,242.45 150.2,252.75 C151,263.05 151.77,275.02 152.6,284.65 C153.43,294.28 154.27,303.42 155.2,310.55 C156.13,317.68 157.2,324 158.2,327.45 C159.2,330.9 160.15,330.58 161.2,331.25 C162.25,331.92 152.95,331.42 164.5,331.45 C176.05,331.48 219.5,331.45 230.5,331.45" fill="none" stroke="#ffa030" stroke-width="1.1"/>
<path d="M83,331.45 C85.48,331.38 94.08,331.45 97.9,331.05 C101.72,330.65 103.07,329.55 105.9,329.05 C108.73,328.55 112.58,328.62 114.9,328.05 C117.22,327.48 118.45,326.25 119.8,325.65 C121.15,325.05 121.83,324.75 123,324.45 C124.17,324.15 125.83,324.35 126.8,323.85 C127.77,323.35 128.13,322.43 128.8,321.45 C129.47,320.47 129.97,321.87 130.8,317.95 C131.63,314.03 132.9,305.27 133.8,297.95 C134.7,290.63 135.37,284 136.2,274.05 C137.03,264.1 138.03,248.53 138.8,238.25 C139.57,227.97 140.23,218.9 140.8,212.35 C141.37,205.8 141.7,202.07 142.2,198.95 C142.7,195.83 143.27,193.42 143.8,193.65 C144.33,193.88 144.82,195.58 145.4,200.35 C145.98,205.12 146.58,213.62 147.3,222.25 C148.02,230.88 148.9,241.85 149.7,252.15 C150.5,262.45 151.27,274.42 152.1,284.05 C152.93,293.68 153.77,302.82 154.7,309.95 C155.63,317.08 156.7,323.3 157.7,326.85 C158.7,330.4 159.65,330.48 160.7,331.25 C161.75,332.02 152.45,331.42 164,331.45 C175.55,331.48 219,331.45 230,331.45" fill="none" stroke="#0000ff" stroke-width="1.25" stroke-linejoin="round"/>
<text x="180.3" y="204.8" font-size="17.2" font-weight="bold" textLength="39.1" lengthAdjust="spacingAndGlyphs">CD25</text>
<path d="M239.3,332.5 v5 M250.7,332.5 v5 M269.8,332.5 v5 M304.6,332.5 v5 M339.4,332.5 v5 M374.2,332.5 v5 M240.9,332.5 v2.6 M242.45,332.5 v2.6 M244,332.5 v2.6 M245.55,332.5 v2.6 M247.1,332.5 v2.6 M248.65,332.5 v2.6 M252.3,332.5 v2.6 M253.9,332.5 v2.6 M255.3,332.5 v2.6 M256.9,332.5 v2.6 M258.4,332.5 v2.6 M260.5,332.5 v2.6 M262.5,332.5 v2.6 M264.6,332.5 v2.6 M267.2,332.5 v2.6 M280.28,332.5 v2.6 M286.4,332.5 v2.6 M290.75,332.5 v2.6 M294.12,332.5 v3.2 M296.88,332.5 v2.6 M299.21,332.5 v2.6 M301.23,332.5 v2.6 M303.01,332.5 v2.6 M315.08,332.5 v2.6 M321.2,332.5 v2.6 M325.55,332.5 v2.6 M328.92,332.5 v3.2 M331.68,332.5 v2.6 M334.01,332.5 v2.6 M336.03,332.5 v2.6 M337.81,332.5 v2.6 M349.88,332.5 v2.6 M356,332.5 v2.6 M360.35,332.5 v2.6 M363.72,332.5 v3.2 M366.48,332.5 v2.6 M368.81,332.5 v2.6 M370.83,332.5 v2.6 M372.61,332.5 v2.6 M384.68,332.5 v2.6" stroke="#7a7a7a" stroke-width="0.9" fill="none"/>
<text x="250.7" y="351" font-size="7.2" text-anchor="middle" fill="#6e6e6e">0</text>
<text x="266.4" y="351" font-size="7.6" fill="#6e6e6e">10<tspan dy="-4.4" font-size="6.2">2</tspan></text>
<text x="301.8" y="351" font-size="7.6" fill="#6e6e6e">10<tspan dy="-4.4" font-size="6.2">3</tspan></text>
<text x="336.5" y="351" font-size="7.6" fill="#6e6e6e">10<tspan dy="-4.4" font-size="6.2">4</tspan></text>
<text x="369.2" y="351" font-size="7.6" fill="#6e6e6e">10<tspan dy="-4.4" font-size="6.2">5</tspan></text>
<path d="M238.7,332.4 h-3.6" stroke="#8c8c8c" stroke-width="0.8"/>
<rect x="238.7" y="184.3" width="148" height="147.7" fill="none" stroke="#9a9a9a" stroke-width="1.25"/>
<path d="M238.7,332.45 H386.7" stroke="#000" stroke-width="1.0"/>
<path d="M239,331.45 C241,331.45 248.52,332.22 251,331.45 C253.48,330.68 252.92,330.77 253.9,326.85 C254.88,322.93 256.07,316.08 256.9,307.95 C257.73,299.82 258.23,288.68 258.9,278.05 C259.57,267.42 260.3,254.12 260.9,244.15 C261.5,234.18 262,224.38 262.5,218.25 C263,212.12 263.33,209 263.9,207.35 C264.47,205.7 265.3,206.53 265.9,208.35 C266.5,210.17 267,212.28 267.5,218.25 C268,224.22 268.43,235.83 268.9,244.15 C269.37,252.47 269.8,260.5 270.3,268.15 C270.8,275.8 271.23,282.42 271.9,290.05 C272.57,297.68 273.48,307.98 274.3,313.95 C275.12,319.92 275.55,323 276.8,325.85 C278.05,328.7 280.27,330.12 281.8,331.05 C283.33,331.98 268.63,331.38 286,331.45 C303.37,331.52 369.33,331.45 386,331.45" fill="none" stroke="#ff1a1a" stroke-width="1.0" stroke-dasharray="1.1 0.9"/>
<path d="M239.7,331.45 C242.68,331.42 253.78,331.73 257.6,331.25 C261.42,330.77 260.93,329.83 262.6,328.55 C264.27,327.27 266.1,325.7 267.6,323.55 C269.1,321.4 270.43,318.97 271.6,315.65 C272.77,312.33 273.78,307.97 274.6,303.65 C275.42,299.33 275.78,296.38 276.5,289.75 C277.22,283.12 278.07,272.48 278.9,263.85 C279.73,255.22 280.63,245.92 281.5,237.95 C282.37,229.98 283.27,222.2 284.1,216.05 C284.93,209.9 285.7,204.28 286.5,201.05 C287.3,197.82 288.17,196.32 288.9,196.65 C289.63,196.98 290.23,198.83 290.9,203.05 C291.57,207.27 292.23,215.15 292.9,221.95 C293.57,228.75 294.23,236.53 294.9,243.85 C295.57,251.17 296.13,257.87 296.9,265.85 C297.67,273.83 298.57,284.12 299.5,291.75 C300.43,299.38 301.35,306.18 302.5,311.65 C303.65,317.12 304.92,321.57 306.4,324.55 C307.88,327.53 309.4,328.43 311.4,329.55 C313.4,330.67 316.52,330.93 318.4,331.25 C320.28,331.57 311.32,331.42 322.7,331.45 C334.08,331.48 376.03,331.45 386.7,331.45" fill="none" stroke="#33cc33" stroke-width="1.1" stroke-dasharray="1.2 1.2"/>
<path d="M239.5,331.45 C242.48,331.42 253.58,331.58 257.4,331.25 C261.22,330.92 260.73,330.58 262.4,329.45 C264.07,328.32 265.9,326.6 267.4,324.45 C268.9,322.3 270.23,319.87 271.4,316.55 C272.57,313.23 273.58,308.87 274.4,304.55 C275.22,300.23 275.58,297.28 276.3,290.65 C277.02,284.02 277.87,273.38 278.7,264.75 C279.53,256.12 280.43,246.82 281.3,238.85 C282.17,230.88 283.07,223.1 283.9,216.95 C284.73,210.8 285.5,205.18 286.3,201.95 C287.1,198.72 287.97,197.22 288.7,197.55 C289.43,197.88 290.03,199.73 290.7,203.95 C291.37,208.17 292.03,216.05 292.7,222.85 C293.37,229.65 294.03,237.43 294.7,244.75 C295.37,252.07 295.93,258.77 296.7,266.75 C297.47,274.73 298.37,285.02 299.3,292.65 C300.23,300.28 301.15,307.08 302.3,312.55 C303.45,318.02 304.72,322.47 306.2,325.45 C307.68,328.43 309.2,329.48 311.2,330.45 C313.2,331.42 316.32,331.08 318.2,331.25 C320.08,331.42 311.12,331.42 322.5,331.45 C333.88,331.48 375.83,331.45 386.5,331.45" fill="none" stroke="#ffa030" stroke-width="1.1"/>
<path d="M239,331.45 C241.98,331.42 253.08,331.68 256.9,331.25 C260.72,330.82 260.23,330.08 261.9,328.85 C263.57,327.62 265.4,326 266.9,323.85 C268.4,321.7 269.73,319.27 270.9,315.95 C272.07,312.63 273.08,308.27 273.9,303.95 C274.72,299.63 275.08,296.68 275.8,290.05 C276.52,283.42 277.37,272.78 278.2,264.15 C279.03,255.52 279.93,246.22 280.8,238.25 C281.67,230.28 282.57,222.5 283.4,216.35 C284.23,210.2 285,204.58 285.8,201.35 C286.6,198.12 287.47,196.62 288.2,196.95 C288.93,197.28 289.53,199.13 290.2,203.35 C290.87,207.57 291.53,215.45 292.2,222.25 C292.87,229.05 293.53,236.83 294.2,244.15 C294.87,251.47 295.43,258.17 296.2,266.15 C296.97,274.13 297.87,284.42 298.8,292.05 C299.73,299.68 300.65,306.48 301.8,311.95 C302.95,317.42 304.22,321.87 305.7,324.85 C307.18,327.83 308.7,328.78 310.7,329.85 C312.7,330.92 315.82,330.98 317.7,331.25 C319.58,331.52 310.62,331.42 322,331.45 C333.38,331.48 375.33,331.45 386,331.45" fill="none" stroke="#0000ff" stroke-width="1.25" stroke-linejoin="round"/>
<text x="337.1" y="204.8" font-size="17.2" font-weight="bold" textLength="38.9" lengthAdjust="spacingAndGlyphs">CD69</text>
<path d="M397.3,332.5 v5 M408.7,332.5 v5 M427.8,332.5 v5 M462.6,332.5 v5 M497.4,332.5 v5 M532.2,332.5 v5 M398.9,332.5 v2.6 M400.45,332.5 v2.6 M402,332.5 v2.6 M403.55,332.5 v2.6 M405.1,332.5 v2.6 M406.65,332.5 v2.6 M410.3,332.5 v2.6 M411.9,332.5 v2.6 M413.3,332.5 v2.6 M414.9,332.5 v2.6 M416.4,332.5 v2.6 M418.5,332.5 v2.6 M420.5,332.5 v2.6 M422.6,332.5 v2.6 M425.2,332.5 v2.6 M438.28,332.5 v2.6 M444.4,332.5 v2.6 M448.75,332.5 v2.6 M452.12,332.5 v3.2 M454.88,332.5 v2.6 M457.21,332.5 v2.6 M459.23,332.5 v2.6 M461.01,332.5 v2.6 M473.08,332.5 v2.6 M479.2,332.5 v2.6 M483.55,332.5 v2.6 M486.92,332.5 v3.2 M489.68,332.5 v2.6 M492.01,332.5 v2.6 M494.03,332.5 v2.6 M495.81,332.5 v2.6 M507.88,332.5 v2.6 M514,332.5 v2.6 M518.35,332.5 v2.6 M521.72,332.5 v3.2 M524.48,332.5 v2.6 M526.81,332.5 v2.6 M528.83,332.5 v2.6 M530.61,332.5 v2.6 M542.68,332.5 v2.6" stroke="#7a7a7a" stroke-width="0.9" fill="none"/>
<text x="408.7" y="351" font-size="7.2" text-anchor="middle" fill="#6e6e6e">0</text>
<text x="424.4" y="351" font-size="7.6" fill="#6e6e6e">10<tspan dy="-4.4" font-size="6.2">2</tspan></text>
<text x="459.8" y="351" font-size="7.6" fill="#6e6e6e">10<tspan dy="-4.4" font-size="6.2">3</tspan></text>
<text x="494.5" y="351" font-size="7.6" fill="#6e6e6e">10<tspan dy="-4.4" font-size="6.2">4</tspan></text>
<text x="527.2" y="351" font-size="7.6" fill="#6e6e6e">10<tspan dy="-4.4" font-size="6.2">5</tspan></text>
<path d="M396.7,332.4 h-3.6" stroke="#8c8c8c" stroke-width="0.8"/>
<rect x="396.7" y="184.3" width="148.1" height="147.7" fill="none" stroke="#3a3a3a" stroke-width="1.25"/>
<path d="M396.7,332.45 H544.8" stroke="#000" stroke-width="1.0"/>
<path d="M397,331.45 C398.17,331.45 402.02,331.88 404,331.45 C405.98,331.02 407.25,330.12 408.9,328.85 C410.55,327.58 412.57,325.67 413.9,323.85 C415.23,322.03 415.9,321.27 416.9,317.95 C417.9,314.63 418.9,309.6 419.9,303.95 C420.9,298.3 422.07,290.35 422.9,284.05 C423.73,277.75 424.23,271.47 424.9,266.15 C425.57,260.83 426.23,255.48 426.9,252.15 C427.57,248.82 428.3,250.13 428.9,246.15 C429.5,242.17 430,233.55 430.5,228.25 C431,222.95 431.35,217 431.9,214.35 C432.45,211.7 433.15,214.02 433.8,212.35 C434.45,210.68 435.13,204.35 435.8,204.35 C436.47,204.35 437.13,208.03 437.8,212.35 C438.47,216.67 439.13,223.28 439.8,230.25 C440.47,237.22 441.13,245.85 441.8,254.15 C442.47,262.45 443.13,272.08 443.8,280.05 C444.47,288.02 444.97,295.3 445.8,301.95 C446.63,308.6 447.8,315.57 448.8,319.95 C449.8,324.33 450.8,326.37 451.8,328.25 C452.8,330.13 453.77,330.72 454.8,331.25 C455.83,331.78 443.13,331.42 458,331.45 C472.87,331.48 529.67,331.45 544,331.45" fill="none" stroke="#ff1a1a" stroke-width="1.0" stroke-dasharray="1.1 0.9"/>
<path d="M397.7,331.45 C408.32,331.45 449.78,331.77 461.4,331.45 C473.02,331.13 465.4,330.53 467.4,329.55 C469.4,328.57 471.57,327.87 473.4,325.55 C475.23,323.23 477.07,319.3 478.4,315.65 C479.73,312 480.4,308.97 481.4,303.65 C482.4,298.33 483.42,290.72 484.4,283.75 C485.38,276.78 486.32,269.48 487.3,261.85 C488.28,254.22 489.47,245.27 490.3,237.95 C491.13,230.63 491.63,222.6 492.3,217.95 C492.97,213.3 493.63,212.87 494.3,210.05 C494.97,207.23 495.8,202.88 496.3,201.05 C496.8,199.22 496.8,200.33 497.3,199.05 C497.8,197.77 498.63,193.18 499.3,193.35 C499.97,193.52 500.63,196.77 501.3,200.05 C501.97,203.33 502.63,207.73 503.3,213.05 C503.97,218.37 504.63,225.15 505.3,231.95 C505.97,238.75 506.63,246.88 507.3,253.85 C507.97,260.82 508.63,267.1 509.3,273.75 C509.97,280.4 510.65,287.43 511.3,293.75 C511.95,300.07 512.38,306.35 513.2,311.65 C514.02,316.95 515.03,322.4 516.2,325.55 C517.37,328.7 518.95,329.57 520.2,330.55 C521.45,331.53 519.62,331.3 523.7,331.45 C527.78,331.6 541.2,331.45 544.7,331.45" fill="none" stroke="#33cc33" stroke-width="1.1" stroke-dasharray="1.2 1.2"/>
<path d="M397.5,331.45 C408.12,331.45 449.58,331.62 461.2,331.45 C472.82,331.28 465.2,331.28 467.2,330.45 C469.2,329.62 471.37,328.77 473.2,326.45 C475.03,324.13 476.87,320.2 478.2,316.55 C479.53,312.9 480.2,309.87 481.2,304.55 C482.2,299.23 483.22,291.62 484.2,284.65 C485.18,277.68 486.12,270.38 487.1,262.75 C488.08,255.12 489.27,246.17 490.1,238.85 C490.93,231.53 491.43,223.5 492.1,218.85 C492.77,214.2 493.43,213.77 494.1,210.95 C494.77,208.13 495.6,203.78 496.1,201.95 C496.6,200.12 496.6,201.23 497.1,199.95 C497.6,198.67 498.43,194.08 499.1,194.25 C499.77,194.42 500.43,197.67 501.1,200.95 C501.77,204.23 502.43,208.63 503.1,213.95 C503.77,219.27 504.43,226.05 505.1,232.85 C505.77,239.65 506.43,247.78 507.1,254.75 C507.77,261.72 508.43,268 509.1,274.65 C509.77,281.3 510.45,288.33 511.1,294.65 C511.75,300.97 512.18,307.25 513,312.55 C513.82,317.85 514.83,323.3 516,326.45 C517.17,329.6 518.75,330.62 520,331.45 C521.25,332.28 519.42,331.45 523.5,331.45 C527.58,331.45 541,331.45 544.5,331.45" fill="none" stroke="#ffa030" stroke-width="1.1"/>
<path d="M397,331.45 C407.62,331.45 449.08,331.72 460.7,331.45 C472.32,331.18 464.7,330.78 466.7,329.85 C468.7,328.92 470.87,328.17 472.7,325.85 C474.53,323.53 476.37,319.6 477.7,315.95 C479.03,312.3 479.7,309.27 480.7,303.95 C481.7,298.63 482.72,291.02 483.7,284.05 C484.68,277.08 485.62,269.78 486.6,262.15 C487.58,254.52 488.77,245.57 489.6,238.25 C490.43,230.93 490.93,222.9 491.6,218.25 C492.27,213.6 492.93,213.17 493.6,210.35 C494.27,207.53 495.1,203.18 495.6,201.35 C496.1,199.52 496.1,200.63 496.6,199.35 C497.1,198.07 497.93,193.48 498.6,193.65 C499.27,193.82 499.93,197.07 500.6,200.35 C501.27,203.63 501.93,208.03 502.6,213.35 C503.27,218.67 503.93,225.45 504.6,232.25 C505.27,239.05 505.93,247.18 506.6,254.15 C507.27,261.12 507.93,267.4 508.6,274.05 C509.27,280.7 509.95,287.73 510.6,294.05 C511.25,300.37 511.68,306.65 512.5,311.95 C513.32,317.25 514.33,322.7 515.5,325.85 C516.67,329 518.25,329.92 519.5,330.85 C520.75,331.78 518.92,331.35 523,331.45 C527.08,331.55 540.5,331.45 544,331.45" fill="none" stroke="#0000ff" stroke-width="1.25" stroke-linejoin="round"/>
<text x="402.1" y="204.8" font-size="17.2" font-weight="bold" textLength="48.6" lengthAdjust="spacingAndGlyphs">NKp30</text>
<path d="M554.7,332.5 v5 M566.1,332.5 v5 M585.2,332.5 v5 M620,332.5 v5 M654.8,332.5 v5 M689.6,332.5 v5 M556.3,332.5 v2.6 M557.85,332.5 v2.6 M559.4,332.5 v2.6 M560.95,332.5 v2.6 M562.5,332.5 v2.6 M564.05,332.5 v2.6 M567.7,332.5 v2.6 M569.3,332.5 v2.6 M570.7,332.5 v2.6 M572.3,332.5 v2.6 M573.8,332.5 v2.6 M575.9,332.5 v2.6 M577.9,332.5 v2.6 M580,332.5 v2.6 M582.6,332.5 v2.6 M595.68,332.5 v2.6 M601.8,332.5 v2.6 M606.15,332.5 v2.6 M609.52,332.5 v3.2 M612.28,332.5 v2.6 M614.61,332.5 v2.6 M616.63,332.5 v2.6 M618.41,332.5 v2.6 M630.48,332.5 v2.6 M636.6,332.5 v2.6 M640.95,332.5 v2.6 M644.32,332.5 v3.2 M647.08,332.5 v2.6 M649.41,332.5 v2.6 M651.43,332.5 v2.6 M653.21,332.5 v2.6 M665.28,332.5 v2.6 M671.4,332.5 v2.6 M675.75,332.5 v2.6 M679.12,332.5 v3.2 M681.88,332.5 v2.6 M684.21,332.5 v2.6 M686.23,332.5 v2.6 M688.01,332.5 v2.6 M700.08,332.5 v2.6" stroke="#7a7a7a" stroke-width="0.9" fill="none"/>
<text x="566.1" y="351" font-size="7.2" text-anchor="middle" fill="#6e6e6e">0</text>
<text x="581.8" y="351" font-size="7.6" fill="#6e6e6e">10<tspan dy="-4.4" font-size="6.2">2</tspan></text>
<text x="617.2" y="351" font-size="7.6" fill="#6e6e6e">10<tspan dy="-4.4" font-size="6.2">3</tspan></text>
<text x="651.9" y="351" font-size="7.6" fill="#6e6e6e">10<tspan dy="-4.4" font-size="6.2">4</tspan></text>
<text x="684.6" y="351" font-size="7.6" fill="#6e6e6e">10<tspan dy="-4.4" font-size="6.2">5</tspan></text>
<path d="M554.1,332.4 h-3.6" stroke="#8c8c8c" stroke-width="0.8"/>
<rect x="554.1" y="184.3" width="148.3" height="147.7" fill="none" stroke="#5a5a5a" stroke-width="1.25"/>
<path d="M554.1,332.45 H702.4" stroke="#000" stroke-width="1.0"/>
<path d="M555,328.85 C555.67,328.52 557.67,327.83 559,326.85 C560.33,325.87 561.68,324.43 563,322.95 C564.32,321.47 565.58,319.95 566.9,317.95 C568.22,315.95 569.57,313.45 570.9,310.95 C572.23,308.45 573.73,306.1 574.9,302.95 C576.07,299.8 576.9,295.87 577.9,292.05 C578.9,288.23 579.9,284.03 580.9,280.05 C581.9,276.07 583.07,271.8 583.9,268.15 C584.73,264.5 585.23,262.15 585.9,258.15 C586.57,254.15 587.23,247.47 587.9,244.15 C588.57,240.83 589.25,241.23 589.9,238.25 C590.55,235.27 591.15,230.23 591.8,226.25 C592.45,222.27 593.13,217.67 593.8,214.35 C594.47,211.03 595.13,206.68 595.8,206.35 C596.47,206.02 597.13,208.7 597.8,212.35 C598.47,216 599.13,222.95 599.8,228.25 C600.47,233.55 601.23,239.83 601.8,244.15 C602.37,248.47 602.7,249.5 603.2,254.15 C603.7,258.8 604.27,266.07 604.8,272.05 C605.33,278.03 605.8,283.73 606.4,290.05 C607,296.37 607.67,304.32 608.4,309.95 C609.13,315.58 609.9,320.47 610.8,323.85 C611.7,327.23 612.65,329.02 613.8,330.25 C614.95,331.48 616.33,331.05 617.7,331.25 C619.07,331.45 607.95,331.42 622,331.45 C636.05,331.48 688.67,331.45 702,331.45" fill="none" stroke="#ff1a1a" stroke-width="1.0" stroke-dasharray="1.1 0.9"/>
<path d="M557.2,331.45 C560.68,331.42 572.3,331.73 578.1,331.25 C583.9,330.77 588.02,329.83 592,328.55 C595.98,327.27 599.33,326.03 602,323.55 C604.67,321.07 606.33,317.97 608,313.65 C609.67,309.33 610.67,304.3 612,297.65 C613.33,291 614.85,282.05 616,273.75 C617.15,265.45 617.92,256.48 618.9,247.85 C619.88,239.22 621,229.58 621.9,221.95 C622.8,214.32 623.47,206.52 624.3,202.05 C625.13,197.58 626.03,195.82 626.9,195.15 C627.77,194.48 628.73,194.25 629.5,198.05 C630.27,201.85 630.77,210.32 631.5,217.95 C632.23,225.58 633.1,235.2 633.9,243.85 C634.7,252.5 635.57,261.53 636.3,269.85 C637.03,278.17 637.53,286.45 638.3,293.75 C639.07,301.05 639.97,308.35 640.9,313.65 C641.83,318.95 642.75,322.73 643.9,325.55 C645.05,328.37 646.42,329.57 647.8,330.55 C649.18,331.53 642.97,331.3 652.2,331.45 C661.43,331.6 694.7,331.45 703.2,331.45" fill="none" stroke="#33cc33" stroke-width="1.1" stroke-dasharray="1.2 1.2"/>
<path d="M556,331.45 C559.48,331.42 571.1,331.68 576.9,331.25 C582.7,330.82 586.82,330.08 590.8,328.85 C594.78,327.62 598.13,326.33 600.8,323.85 C603.47,321.37 605.13,318.27 606.8,313.95 C608.47,309.63 609.47,304.6 610.8,297.95 C612.13,291.3 613.65,282.35 614.8,274.05 C615.95,265.75 616.72,256.78 617.7,248.15 C618.68,239.52 619.8,229.88 620.7,222.25 C621.6,214.62 622.27,206.82 623.1,202.35 C623.93,197.88 624.83,196.12 625.7,195.45 C626.57,194.78 627.53,194.55 628.3,198.35 C629.07,202.15 629.57,210.62 630.3,218.25 C631.03,225.88 631.9,235.5 632.7,244.15 C633.5,252.8 634.37,261.83 635.1,270.15 C635.83,278.47 636.33,286.75 637.1,294.05 C637.87,301.35 638.77,308.65 639.7,313.95 C640.63,319.25 641.55,323.03 642.7,325.85 C643.85,328.67 645.22,329.92 646.6,330.85 C647.98,331.78 641.77,331.35 651,331.45 C660.23,331.55 693.5,331.45 702,331.45" fill="none" stroke="#ffa030" stroke-width="1.1"/>
<path d="M554.5,326.85 C554.75,327.52 555.08,330.08 556,330.85 C556.92,331.62 556.85,331.55 560,331.45 C563.15,331.35 570.75,330.68 574.9,330.25 C579.05,329.82 582.25,329.58 584.9,328.85 C587.55,328.12 588.82,326.83 590.8,325.85 C592.78,324.87 595.13,323.93 596.8,322.95 C598.47,321.97 599.63,321.78 600.8,319.95 C601.97,318.12 602.8,315.62 603.8,311.95 C604.8,308.28 605.8,302.93 606.8,297.95 C607.8,292.97 608.8,288.02 609.8,282.05 C610.8,276.08 611.9,268.47 612.8,262.15 C613.7,255.83 614.38,249.8 615.2,244.15 C616.02,238.5 616.95,233.55 617.7,228.25 C618.45,222.95 619.03,216.33 619.7,212.35 C620.37,208.37 620.87,206.08 621.7,204.35 C622.53,202.62 623.87,201.12 624.7,201.95 C625.53,202.78 625.93,204.97 626.7,209.35 C627.47,213.73 628.47,221.78 629.3,228.25 C630.13,234.72 630.97,241.5 631.7,248.15 C632.43,254.8 633.03,261.17 633.7,268.15 C634.37,275.13 635.03,283.08 635.7,290.05 C636.37,297.02 636.87,304.15 637.7,309.95 C638.53,315.75 639.55,321.47 640.7,324.85 C641.85,328.23 643.12,329.18 644.6,330.25 C646.08,331.32 648.03,331.05 649.6,331.25 C651.17,331.45 645.27,331.42 654,331.45 C662.73,331.48 694,331.45 702,331.45" fill="none" stroke="#0000ff" stroke-width="1.25" stroke-linejoin="round"/>
<text x="561.1" y="204.8" font-size="17.2" font-weight="bold" textLength="48.2" lengthAdjust="spacingAndGlyphs">NKp44</text>
<path d="M184.6,388.4 V609.8" stroke="#7c7c7c" stroke-width="1.4"/>
<path d="M178.6,551.6 H184.6" stroke="#7c7c7c" stroke-width="1.4"/>
<text x="168.2" y="556.9" font-size="16.3" text-anchor="end" textLength="10.2" lengthAdjust="spacingAndGlyphs" stroke="#000" stroke-width="0.4">0</text>
<path d="M178.6,510.8 H184.6" stroke="#7c7c7c" stroke-width="1.4"/>
<text x="168.2" y="516.1" font-size="16.3" text-anchor="end" textLength="19" lengthAdjust="spacingAndGlyphs" stroke="#000" stroke-width="0.4">20</text>
<path d="M178.6,470 H184.6" stroke="#7c7c7c" stroke-width="1.4"/>
<text x="168.2" y="475.3" font-size="16.3" text-anchor="end" textLength="19" lengthAdjust="spacingAndGlyphs" stroke="#000" stroke-width="0.4">40</text>
<path d="M178.6,429.2 H184.6" stroke="#7c7c7c" stroke-width="1.4"/>
<text x="168.2" y="434.5" font-size="16.3" text-anchor="end" textLength="19" lengthAdjust="spacingAndGlyphs" stroke="#000" stroke-width="0.4">60</text>
<path d="M178.6,388.4 H184.6" stroke="#7c7c7c" stroke-width="1.4"/>
<text x="168.2" y="393.7" font-size="16.3" text-anchor="end" textLength="19" lengthAdjust="spacingAndGlyphs" stroke="#000" stroke-width="0.4">80</text>
<path d="M184.6,551.6 H624.4" stroke="#7c7c7c" stroke-width="1.6"/>
<path d="M272.5,551.6 V609.8" stroke="#7c7c7c" stroke-width="1.4"/>
<path d="M360.4,551.6 V580.8" stroke="#7c7c7c" stroke-width="1.4"/>
<path d="M448.5,551.6 V580.8" stroke="#7c7c7c" stroke-width="1.4"/>
<path d="M536.4,551.6 V580.8" stroke="#7c7c7c" stroke-width="1.4"/>
<path d="M624.2,551.6 V609.8" stroke="#7c7c7c" stroke-width="1.4"/>
<rect x="211" y="542.3" width="35.2" height="8.6" fill="#000"/>
<path d="M228.6,542.3 V535.6 M225.1,535.85 H232.1" stroke="#000" stroke-width="1.6"/>
<rect x="298.6" y="444" width="35.8" height="106.9" fill="#000"/>
<path d="M316.5,444 V439.2 M313,439.45 H320" stroke="#000" stroke-width="1.6"/>
<rect x="386.5" y="496.2" width="35.5" height="54.7" fill="#000"/>
<path d="M404.25,496.2 V485.7 M400.75,485.95 H407.75" stroke="#000" stroke-width="1.6"/>
<rect x="474.7" y="416" width="35.2" height="134.9" fill="#000"/>
<path d="M492.3,416 V401.6 M488.8,401.85 H495.8" stroke="#000" stroke-width="1.6"/>
<rect x="562.6" y="476.2" width="35.2" height="74.7" fill="#000"/>
<path d="M580.2,476.2 V466.2 M576.7,466.45 H583.7" stroke="#000" stroke-width="1.6"/>
<path d="M317,390.3 V381.2 H404.6 V390.3" fill="none" stroke="#000" stroke-width="1.45"/>
<path d="M492.6,390.3 V381.2 H579.6 V390.3" fill="none" stroke="#000" stroke-width="1.45"/>
<circle cx="362.3" cy="371.9" r="2.4" fill="#000"/>
<circle cx="534.8" cy="371.7" r="2.3" fill="#000"/>
<circle cx="541.0" cy="371.7" r="2.3" fill="#000"/>
<text transform="translate(140.5,545.4) rotate(-90)" font-size="16.3" font-weight="bold" stroke="#000" stroke-width="0.7" textLength="149.3" lengthAdjust="spacingAndGlyphs">IFN-gamma (pg/mL)</text>
<text x="228.6" y="576.2" font-size="14.8" font-weight="bold" text-anchor="middle">-</text>
<text x="287.2" y="576.2" font-size="14.8" font-weight="bold" textLength="58" lengthAdjust="spacingAndGlyphs">#medium</text>
<text x="364.4" y="576.2" font-size="14.8" font-weight="bold" textLength="78.8" lengthAdjust="spacingAndGlyphs">#hMADS-CM</text>
<text x="467.6" y="576.2" font-size="14.8" font-weight="bold" textLength="49.9" lengthAdjust="spacingAndGlyphs">medium</text>
<text x="544.5" y="576.2" font-size="14.8" font-weight="bold" textLength="71.3" lengthAdjust="spacingAndGlyphs">hMADS-CM</text>
<text x="210.2" y="604.8" font-size="13.8" font-weight="bold" textLength="36.6" lengthAdjust="spacingAndGlyphs">NK-92</text>
<text x="361" y="605" font-size="14.3" font-weight="bold" textLength="174.6" lengthAdjust="spacingAndGlyphs">NK-92 +BT474 +trastuzumab</text>
<path d="M66,695 V889" stroke="#7c7c7c" stroke-width="1.4"/>
<path d="M60,884.5 H66" stroke="#7c7c7c" stroke-width="1.4"/>
<text x="49.4" y="889.8" font-size="16.3" text-anchor="end" textLength="10.2" lengthAdjust="spacingAndGlyphs" stroke="#000" stroke-width="0.4">0</text>
<path d="M60,852.92 H66" stroke="#7c7c7c" stroke-width="1.4"/>
<text x="49.4" y="858.22" font-size="16.3" text-anchor="end" textLength="19" lengthAdjust="spacingAndGlyphs" stroke="#000" stroke-width="0.4">20</text>
<path d="M60,821.33 H66" stroke="#7c7c7c" stroke-width="1.4"/>
<text x="49.4" y="826.63" font-size="16.3" text-anchor="end" textLength="19" lengthAdjust="spacingAndGlyphs" stroke="#000" stroke-width="0.4">40</text>
<path d="M60,789.75 H66" stroke="#7c7c7c" stroke-width="1.4"/>
<text x="49.4" y="795.05" font-size="16.3" text-anchor="end" textLength="19" lengthAdjust="spacingAndGlyphs" stroke="#000" stroke-width="0.4">60</text>
<path d="M60,758.17 H66" stroke="#7c7c7c" stroke-width="1.4"/>
<text x="49.4" y="763.47" font-size="16.3" text-anchor="end" textLength="19" lengthAdjust="spacingAndGlyphs" stroke="#000" stroke-width="0.4">80</text>
<path d="M60,726.58 H66" stroke="#7c7c7c" stroke-width="1.4"/>
<text x="49.4" y="731.88" font-size="16.3" text-anchor="end" textLength="27.6" lengthAdjust="spacingAndGlyphs" stroke="#000" stroke-width="0.4">100</text>
<path d="M60,695 H66" stroke="#7c7c7c" stroke-width="1.4"/>
<text x="49.4" y="700.3" font-size="16.3" text-anchor="end" textLength="27.6" lengthAdjust="spacingAndGlyphs" stroke="#000" stroke-width="0.4">120</text>
<path d="M60,884.5 H386" stroke="#7c7c7c" stroke-width="1.6"/>
<path d="M145.8,884.5 V889" stroke="#7c7c7c" stroke-width="1.4"/>
<path d="M225.4,884.5 V889" stroke="#7c7c7c" stroke-width="1.4"/>
<path d="M305.6,884.5 V889" stroke="#7c7c7c" stroke-width="1.4"/>
<path d="M385.6,884.5 V889" stroke="#7c7c7c" stroke-width="1.4"/>
<rect x="90" y="726.7" width="31.7" height="157.1" fill="#000"/>
<path d="M105.85,726.7 V726.3 M102.35,726.55 H109.35" stroke="#000" stroke-width="1.6"/>
<rect x="169.8" y="722.5" width="32" height="161.3" fill="#000"/>
<path d="M185.8,722.5 V704.5 M182.3,704.75 H189.3" stroke="#000" stroke-width="1.6"/>
<rect x="249.9" y="737.5" width="31.9" height="146.3" fill="#000"/>
<path d="M265.85,737.5 V711.2 M262.35,711.45 H269.35" stroke="#000" stroke-width="1.6"/>
<rect x="330.1" y="726.7" width="31.6" height="157.1" fill="#000"/>
<path d="M345.9,726.7 V717.9 M342.4,718.15 H349.4" stroke="#000" stroke-width="1.6"/>
<path d="M106.7,697.2 V688.4 H186.3 V697.2" fill="none" stroke="#000" stroke-width="1.45"/>
<path d="M265.8,697 V688.4 H346 V697" fill="none" stroke="#000" stroke-width="1.45"/>
<text x="148.2" y="684.9" font-size="10.5" text-anchor="middle" stroke="#000" stroke-width="0.3">ns</text>
<text x="307.7" y="684.9" font-size="10.5" text-anchor="middle" stroke="#000" stroke-width="0.3">ns</text>
<text transform="translate(13.2,880.2) rotate(-90)" font-size="16.3" font-weight="bold" stroke="#000" stroke-width="0.7" textLength="180.6" lengthAdjust="spacingAndGlyphs">Relative cytotoxicity (%)</text>
<text x="77" y="908.3" font-size="14.3" font-weight="bold" textLength="57.2" lengthAdjust="spacingAndGlyphs">#medium</text>
<text x="146.4" y="908.3" font-size="14.3" font-weight="bold" textLength="77.6" lengthAdjust="spacingAndGlyphs">#hMADS-CM</text>
<text x="241" y="908.3" font-size="14.3" font-weight="bold" textLength="49.6" lengthAdjust="spacingAndGlyphs">medium</text>
<text x="310.6" y="908.3" font-size="14.3" font-weight="bold" textLength="70.2" lengthAdjust="spacingAndGlyphs">hMADS-CM</text>
<path d="M458,686.6 V889.5" stroke="#7c7c7c" stroke-width="1.4"/>
<path d="M452,885.4 H458" stroke="#7c7c7c" stroke-width="1.4"/>
<text x="441.7" y="890.7" font-size="16.3" text-anchor="end" textLength="10.2" lengthAdjust="spacingAndGlyphs" stroke="#000" stroke-width="0.4">0</text>
<path d="M452,860.55 H458" stroke="#7c7c7c" stroke-width="1.4"/>
<text x="441.7" y="865.85" font-size="16.3" text-anchor="end" textLength="19" lengthAdjust="spacingAndGlyphs" stroke="#000" stroke-width="0.4">20</text>
<path d="M452,835.7 H458" stroke="#7c7c7c" stroke-width="1.4"/>
<text x="441.7" y="841" font-size="16.3" text-anchor="end" textLength="19" lengthAdjust="spacingAndGlyphs" stroke="#000" stroke-width="0.4">40</text>
<path d="M452,810.85 H458" stroke="#7c7c7c" stroke-width="1.4"/>
<text x="441.7" y="816.15" font-size="16.3" text-anchor="end" textLength="19" lengthAdjust="spacingAndGlyphs" stroke="#000" stroke-width="0.4">60</text>
<path d="M452,786 H458" stroke="#7c7c7c" stroke-width="1.4"/>
<text x="441.7" y="791.3" font-size="16.3" text-anchor="end" textLength="19" lengthAdjust="spacingAndGlyphs" stroke="#000" stroke-width="0.4">80</text>
<path d="M452,761.15 H458" stroke="#7c7c7c" stroke-width="1.4"/>
<text x="441.7" y="766.45" font-size="16.3" text-anchor="end" textLength="27.6" lengthAdjust="spacingAndGlyphs" stroke="#000" stroke-width="0.4">100</text>
<path d="M452,736.3 H458" stroke="#7c7c7c" stroke-width="1.4"/>
<text x="441.7" y="741.6" font-size="16.3" text-anchor="end" textLength="27.6" lengthAdjust="spacingAndGlyphs" stroke="#000" stroke-width="0.4">120</text>
<path d="M452,711.45 H458" stroke="#7c7c7c" stroke-width="1.4"/>
<text x="441.7" y="716.75" font-size="16.3" text-anchor="end" textLength="27.6" lengthAdjust="spacingAndGlyphs" stroke="#000" stroke-width="0.4">140</text>
<path d="M452,686.6 H458" stroke="#7c7c7c" stroke-width="1.4"/>
<text x="441.7" y="691.9" font-size="16.3" text-anchor="end" textLength="27.6" lengthAdjust="spacingAndGlyphs" stroke="#000" stroke-width="0.4">160</text>
<path d="M452,885.4 H778" stroke="#7c7c7c" stroke-width="1.6"/>
<path d="M537.4,885.4 V889.5" stroke="#7c7c7c" stroke-width="1.4"/>
<path d="M617.8,885.4 V889.5" stroke="#7c7c7c" stroke-width="1.4"/>
<path d="M697.4,885.4 V889.5" stroke="#7c7c7c" stroke-width="1.4"/>
<path d="M777.2,885.4 V889.5" stroke="#7c7c7c" stroke-width="1.4"/>
<rect x="481.7" y="761.1" width="31.8" height="123.6" fill="#000"/>
<path d="M497.6,761.1 V760.7 M494.1,760.95 H501.1" stroke="#000" stroke-width="1.6"/>
<rect x="561.4" y="769" width="32.6" height="115.7" fill="#000"/>
<path d="M577.7,769 V748.8 M574.2,749.05 H581.2" stroke="#000" stroke-width="1.6"/>
<rect x="641.8" y="735.1" width="32.1" height="149.6" fill="#000"/>
<path d="M657.85,735.1 V713 M654.35,713.25 H661.35" stroke="#000" stroke-width="1.6"/>
<rect x="722" y="750" width="31.6" height="134.7" fill="#000"/>
<path d="M737.8,750 V728 M734.3,728.25 H741.3" stroke="#000" stroke-width="1.6"/>
<path d="M498.1,696.6 V688.4 H578.3 V696.6" fill="none" stroke="#000" stroke-width="1.45"/>
<path d="M657.7,696.8 V688.2 H737.4 V696.8" fill="none" stroke="#000" stroke-width="1.45"/>
<text x="540" y="684.9" font-size="10.5" text-anchor="middle" stroke="#000" stroke-width="0.3">ns</text>
<text x="699.3" y="684.9" font-size="10.5" text-anchor="middle" stroke="#000" stroke-width="0.3">ns</text>
<text transform="translate(404.8,875.8) rotate(-90)" font-size="16.3" font-weight="bold" stroke="#000" stroke-width="0.7" textLength="179.2" lengthAdjust="spacingAndGlyphs">Relative cytotoxicity (%)</text>
<text x="468.6" y="909.6" font-size="14.3" font-weight="bold" textLength="58" lengthAdjust="spacingAndGlyphs">#medium</text>
<text x="538.7" y="909.6" font-size="14.3" font-weight="bold" textLength="77.6" lengthAdjust="spacingAndGlyphs">#hMADS-CM</text>
<text x="632.9" y="909.6" font-size="14.3" font-weight="bold" textLength="49.3" lengthAdjust="spacingAndGlyphs">medium</text>
<text x="702.2" y="909.6" font-size="14.3" font-weight="bold" textLength="70.3" lengthAdjust="spacingAndGlyphs">hMADS-CM</text>
</svg>
</body></html>
